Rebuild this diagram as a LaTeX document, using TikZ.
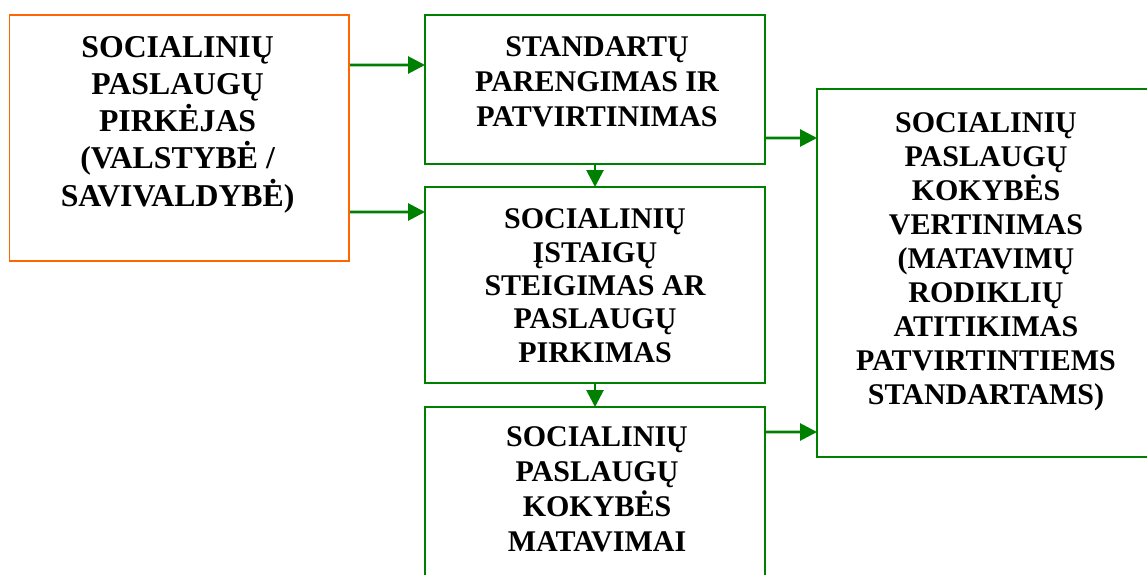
\documentclass[tikz,border=0pt]{standalone}
\usepackage{fontspec}
\setmainfont{Liberation Serif}
\usetikzlibrary{arrows.meta}
\pgfdeclarelayer{edgelayer}
\pgfdeclarelayer{nodelayer}
\pgfsetlayers{edgelayer,nodelayer,main}
\definecolor{boxorange}{RGB}{255,102,0}
\definecolor{boxgreen}{RGB}{0,128,0}
\tikzset{font=\fontsize{21.35}{25}\selectfont\bfseries}
\tikzstyle{orangebox}=[draw=boxorange,line width=1.4pt,inner sep=0pt,outer sep=0pt]
\tikzstyle{greenbox}=[draw=boxgreen,line width=1.4pt,inner sep=0pt,outer sep=0pt]
\tikzstyle{boxtext}=[align=center,inner sep=0pt]
\tikzstyle{arr}=[draw=boxgreen,line width=2pt,-{Triangle[length=0.42cm,width=0.42cm]}]

\begin{document}
\begin{tikzpicture}
	\useasboundingbox (0, 0) rectangle (28.675, -14.35);
	\begin{pgfonlayer}{nodelayer}
		\node [style=orangebox, minimum width=8.4875cm, minimum height=6.15cm] (0) at (4.481, -3.45) {};
		\node [style=greenbox, minimum width=8.5cm, minimum height=3.725cm] (1) at (14.875, -2.2375) {};
		\node [style=greenbox, minimum width=8.5cm, minimum height=4.9cm] (2) at (14.875, -7.125) {};
		\node [style=greenbox, minimum width=8.5cm, minimum height=4.825cm] (3) at (14.875, -12.5875) {};
		\node [style=greenbox, minimum width=8.825cm, minimum height=9.2cm] (4) at (24.8375, -6.825) {};
		\node [style=boxtext, font=\fontsize{22.6}{26.5}\selectfont\bfseries] (5) at (4.44, -3.11) {SOCIALINIŲ\\PASLAUGŲ\\PIRKĖJAS\\(VALSTYBĖ /\\SAVIVALDYBĖ)};
		\node [style=boxtext] (6) at (14.925, -2.05) {STANDARTŲ\\PARENGIMAS IR\\PATVIRTINIMAS};
		\node [style=boxtext, font=\fontsize{21.35}{23.7}\selectfont\bfseries] (7) at (14.875, -7.14) {SOCIALINIŲ\\ĮSTAIGŲ\\STEIGIMAS AR\\PASLAUGŲ\\PIRKIMAS};
		\node [style=boxtext, font=\fontsize{21.35}{24.8}\selectfont\bfseries] (8) at (14.925, -12.225) {SOCIALINIŲ\\PASLAUGŲ\\KOKYBĖS\\MATAVIMAI};
		\node [style=boxtext, font=\fontsize{21.35}{24.2}\selectfont\bfseries] (9) at (24.65, -6.54) {SOCIALINIŲ\\PASLAUGŲ\\KOKYBĖS\\VERTINIMAS\\(MATAVIMŲ\\RODIKLIŲ\\ATITIKIMAS\\PATVIRTINTIEMS\\STANDARTAMS)};
	\end{pgfonlayer}
	\begin{pgfonlayer}{edgelayer}
		\draw [style=arr] ([yshift=-1.25cm]0.north east) to ([yshift=-1.25cm]1.north west);
		\draw [style=arr] ([yshift=1.225cm]0.south east) to ([yshift=-0.625cm]2.north west);
		\draw [style=arr] (1.south) to (2.north);
		\draw [style=arr] (2.south) to (3.north);
		\draw [style=arr] ([yshift=0.65cm]1.south east) to ([yshift=-1.225cm]4.north west);
		\draw [style=arr] ([yshift=-0.625cm]3.north east) to ([yshift=0.625cm]4.south west);
	\end{pgfonlayer}
\end{tikzpicture}
\end{document}
